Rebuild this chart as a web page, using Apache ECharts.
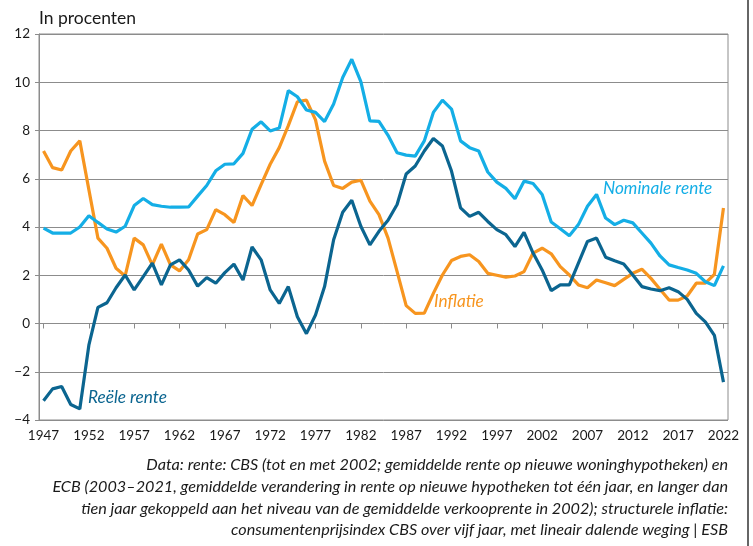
<!DOCTYPE html>
<html>
<head>
<meta charset="utf-8">
<script src="https://cdn.jsdelivr.net/npm/echarts@6/dist/echarts.min.js"></script>
<style>html,body{margin:0;padding:0;background:#fff;}#c{width:753px;height:546px;}</style>
</head>
<body>
<div id="c"></div>
<script>
const years = [];
for (let y = 1947; y <= 2022; y++) years.push(String(y));

const nominaleRente = [
  3.95, 3.75, 3.75, 3.75, 4.0, 4.47, 4.19, 3.92, 3.79, 4.03,
  4.89, 5.18, 4.93, 4.86, 4.82, 4.82, 4.83, 5.28, 5.72, 6.33,
  6.6, 6.62, 7.05, 8.05, 8.36, 7.98, 8.1, 9.65, 9.4, 8.85,
  8.75, 8.37, 9.1, 10.2, 10.95, 10.03, 8.4, 8.38, 7.8, 7.08,
  6.98, 6.94, 7.57, 8.75, 9.26, 8.89, 7.57, 7.29, 7.15, 6.28,
  5.86, 5.6, 5.17, 5.9, 5.8, 5.35, 4.21, 3.93, 3.64, 4.1,
  4.86, 5.35, 4.37, 4.1, 4.28, 4.17, 3.75, 3.33, 2.8, 2.43,
  2.32, 2.22, 2.08, 1.73, 1.57, 2.39
];
const inflatie = [
  7.15, 6.46, 6.36, 7.15, 7.57, 5.55, 3.54, 3.12, 2.29, 1.97,
  3.54, 3.26, 2.43, 3.29, 2.43, 2.18, 2.64, 3.71, 3.89, 4.72,
  4.51, 4.19, 5.3, 4.89, 5.76, 6.6, 7.29, 8.2, 9.19, 9.26,
  8.44, 6.73, 5.72, 5.6, 5.86, 5.94, 5.07, 4.51, 3.54, 2.15,
  0.74, 0.42, 0.43, 1.25, 2.01, 2.61, 2.78, 2.85, 2.57, 2.08,
  2.0, 1.92, 1.97, 2.15, 2.92, 3.12, 2.89, 2.36, 2.01, 1.6,
  1.48, 1.8, 1.69, 1.57, 1.83, 2.08, 2.25, 1.87, 1.42, 0.97,
  0.97, 1.14, 1.67, 1.67, 2.04, 4.79
];
const reeleRente = [
  -3.2, -2.71, -2.61, -3.36, -3.54, -0.9, 0.67, 0.86, 1.48, 2.01,
  1.39, 1.94, 2.5, 1.6, 2.43, 2.64, 2.22, 1.55, 1.9, 1.67,
  2.11, 2.46, 1.8, 3.17, 2.64, 1.39, 0.83, 1.53, 0.28, -0.42,
  0.35, 1.53, 3.47, 4.61, 5.11, 4.03, 3.26, 3.82, 4.28, 4.93,
  6.2, 6.53, 7.15, 7.67, 7.36, 6.32, 4.79, 4.44, 4.61, 4.23,
  3.89, 3.68, 3.19, 3.78, 2.92, 2.22, 1.36, 1.6, 1.6, 2.5,
  3.4, 3.54, 2.75, 2.6, 2.47, 2.01, 1.53, 1.43, 1.36, 1.48,
  1.32, 1.0, 0.42, 0.07, -0.49, -2.43
];

const sourceLines = [
  'Data: rente: CBS (tot en met 2002; gemiddelde rente op nieuwe woninghypotheken) en',
  'ECB (2003\u20132021, gemiddelde verandering in rente op nieuwe hypotheken tot één jaar, en langer dan',
  'tien jaar gekoppeld aan het niveau van de gemiddelde verkooprente in 2002); structurele inflatie:',
  'consumentenprijsindex CBS over vijf jaar, met lineair dalende weging | ESB'
];

const cLight = '#14aee6';
const cDark = '#0b6590';
const cOrange = '#f7951f';
const gridColor = '#8c8c8c';

const chart = echarts.init(document.getElementById('c'), null, {renderer: 'canvas'});

const sourceGraphics = sourceLines.map((t, i) => ({
  type: 'text',
  right: 25,
  top: 457 + i * 21.7,
  style: {
    text: t,
    fill: '#1a1a1a',
    font: 'italic 16.2px "Lato", sans-serif',
    textAlign: 'right'
  }
}));

const option = {
  backgroundColor: '#fff',
  animation: false,
  grid: {
    left: 39, right: 25, top: 34, bottom: 126,
    show: true, borderColor: gridColor, borderWidth: 1,
    containLabel: false
  },
  xAxis: {
    type: 'category',
    data: years,
    boundaryGap: true,
    axisLine: {show: true, lineStyle: {color: gridColor, width: 1}},
    axisTick: {show: true, interval: 4, alignWithLabel: true, length: 5, lineStyle: {color: gridColor}},
    axisLabel: {interval: 4, color: '#1a1a1a', fontFamily: 'Lato', fontSize: 13.5, margin: 9},
    splitLine: {show: false}
  },
  yAxis: {
    type: 'value',
    min: -4, max: 12, interval: 2,
    axisLine: {show: true, lineStyle: {color: gridColor, width: 1}},
    axisTick: {show: true, length: 4, lineStyle: {color: gridColor}},
    axisLabel: {
      color: '#1a1a1a', fontFamily: 'Lato', fontSize: 13.5, margin: 9,
      formatter: v => String(v).replace('-', '\u2212')
    },
    splitLine: {show: true, lineStyle: {color: gridColor, width: 1}},
    name: 'In procenten',
    nameLocation: 'end',
    nameGap: 7,
    nameTextStyle: {color: '#1a1a1a', fontFamily: 'Lato', fontSize: 17.5, align: 'left', padding: [0, 0, 0, 0]}
  },
  series: [
    {name: 'Nominale rente', type: 'line', data: nominaleRente, symbol: 'none',
     lineStyle: {color: cLight, width: 3.2}, itemStyle: {color: cLight}, z: 3},
    {name: 'Inflatie', type: 'line', data: inflatie, symbol: 'none',
     lineStyle: {color: cOrange, width: 3.2}, itemStyle: {color: cOrange}, z: 2},
    {name: 'Reële rente', type: 'line', data: reeleRente, symbol: 'none',
     lineStyle: {color: cDark, width: 3.2}, itemStyle: {color: cDark}, z: 4}
  ],
  graphic: [
    {type: 'text', left: 603, top: 180, style: {text: 'Nominale rente', fill: cLight, font: 'italic 17.2px "Lato", sans-serif'}},
    {type: 'text', left: 434, top: 293, style: {text: 'Inflatie', fill: cOrange, font: 'italic 17.2px "Lato", sans-serif'}},
    {type: 'text', left: 88, top: 389, style: {text: 'Reële rente', fill: cDark, font: 'italic 17.2px "Lato", sans-serif'}},
    {type: 'line', shape: {x1: 748, y1: 0, x2: 748, y2: 546}, style: {stroke: '#666', lineWidth: 2}}
  ].concat(sourceGraphics)
};
chart.setOption(option);
</script>
</body>
</html>
